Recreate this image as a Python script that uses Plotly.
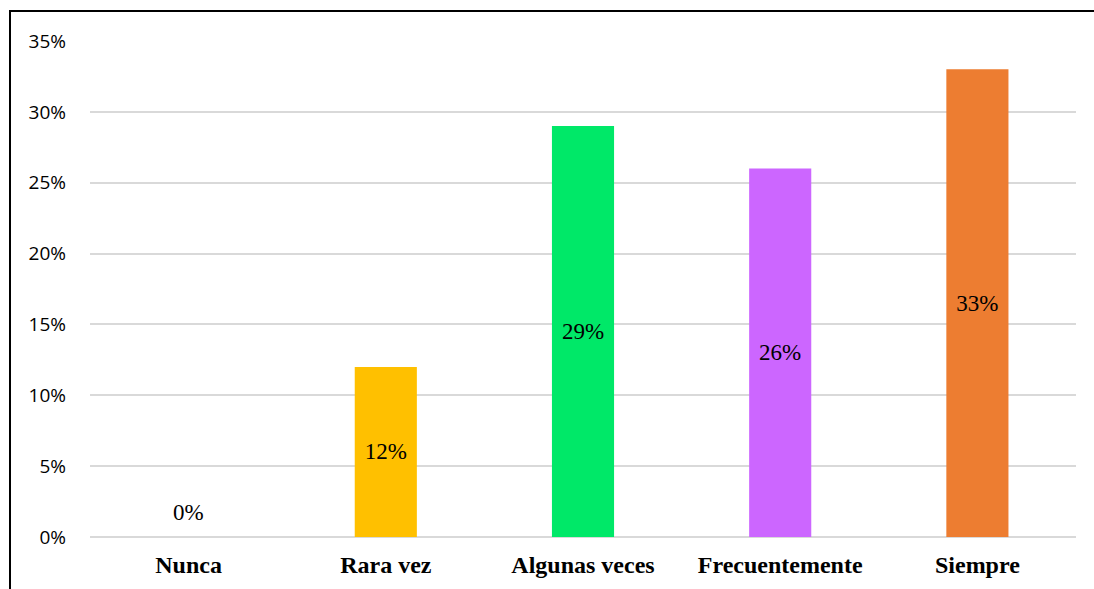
import plotly.graph_objects as go

categories = ["Nunca", "Rara vez", "Algunas veces", "Frecuentemente", "Siempre"]
values = [0.00, 0.12, 0.29, 0.26, 0.33]
colors = ["#FFC000", "#FFC000", "#00E868", "#CC66FF", "#ED7D31"]
y_ticks = [0, 0.05, 0.10, 0.15, 0.20, 0.25, 0.30, 0.35]

W, H = 1094, 589
ML, MR, MT, MB = 90, 18, 41, 52
pw, ph = W - ML - MR, H - MT - MB

def px_x(p):
    return (p - ML) / pw

def px_y(p):
    return (H - MB - p) / ph

labels = [f"{round(v * 100)}%" for v in values]
label_font = dict(family="Liberation Serif", size=23, color="#000000")

fig = go.Figure()
fig.add_trace(go.Bar(
    x=categories,
    y=values,
    marker=dict(color=colors, line=dict(width=0)),
    width=0.315,
    text=[t if v > 0 else "" for t, v in zip(labels, values)],
    textposition="inside",
    insidetextanchor="middle",
    textangle=0,
    textfont=label_font,
    hoverinfo="skip",
))

# zero-valued categories get their label just above the baseline
for c, v, t in zip(categories, values, labels):
    if v == 0:
        fig.add_annotation(x=c, y=v, text=t, showarrow=False, yshift=25,
                           font=label_font)

# chart frame (left and top edges)
fig.add_shape(type="line", xref="paper", yref="paper",
              x0=px_x(10), x1=px_x(10), y0=px_y(11), y1=px_y(H + 5),
              line=dict(color="#000000", width=2))
fig.add_shape(type="line", xref="paper", yref="paper",
              x0=px_x(9), x1=px_x(W + 5), y0=px_y(11), y1=px_y(11),
              line=dict(color="#000000", width=2))

fig.update_layout(
    width=W, height=H,
    margin=dict(l=ML, r=MR, t=MT, b=MB, autoexpand=False),
    paper_bgcolor="#FFFFFF",
    plot_bgcolor="#FFFFFF",
    showlegend=False,
    bargap=0.685,
    xaxis=dict(
        tickfont=dict(family="Liberation Serif", size=24, color="#000000", weight="bold"),
        showgrid=False, showline=False, zeroline=False, ticks="",
        ticklabelstandoff=11, automargin=False,
    ),
    yaxis=dict(
        range=[0, 0.35],
        tickvals=y_ticks,
        tickformat=".0%",
        tickfont=dict(family="Open Sans", size=19, color="#000000"),
        showgrid=True, gridcolor="#D9D9D9", gridwidth=2,
        zeroline=True, zerolinecolor="#D9D9D9", zerolinewidth=2,
        showline=False, ticks="",
        ticklabelstandoff=23, automargin=False,
    ),
)

fig.write_html("out.html")
